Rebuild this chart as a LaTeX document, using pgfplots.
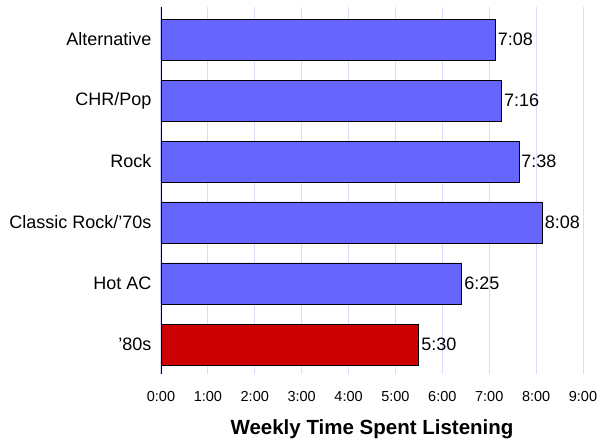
\documentclass[border=0pt]{standalone}
\usepackage{fontspec}
\setmainfont{Liberation Sans}
\usepackage{pgfplots}
\usepackage{pgfplotstable}
\pgfplotsset{compat=1.18}
\definecolor{barblue}{RGB}{102,102,255}
\definecolor{barred}{RGB}{204,0,0}
\definecolor{gridc}{RGB}{218,218,255}
\pgfplotstableread{
y x label
5 7.1333 7:08
4 7.2667 7:16
3 7.6333 7:38
2 8.1333 8:08
1 6.4167 6:25
}\bluedata
\pgfplotstableread{
y x label
0 5.5 5:30
}\reddata
\begin{document}
\begin{tikzpicture}
\path[use as bounding box] (-161pt,-65pt) rectangle (441pt,374pt);
\begin{axis}[
  at={(0pt,0pt)}, anchor=south west,
  scale only axis, width=422pt, height=367pt,
  xmin=0, xmax=9, ymin=-0.484, ymax=5.533,
  xtick={0,...,9},
  xticklabels={0:00,1:00,2:00,3:00,4:00,5:00,6:00,7:00,8:00,9:00},
  ytick={0,...,5},
  yticklabels={'80s,Hot AC,Classic Rock/'70s,Rock,CHR/Pop,Alternative},
  xmajorgrids, major grid style={gridc, line width=1pt},
  axis x line*=bottom, axis y line*=left,
  x axis line style={draw=none},
  y axis line style={black, line width=0.8pt},
  major tick length=0pt,
  xticklabel style={font=\fontsize{14.5}{16}\selectfont, yshift=-14pt},
  yticklabel style={font=\fontsize{18}{20}\selectfont, xshift=-6pt},
  xlabel={\textbf{Weekly Time Spent Listening}},
  xlabel style={font=\fontsize{20.5}{22}\selectfont, yshift=-11pt},
  xbar, bar width=0.672, bar shift=0pt,
  nodes near coords, point meta=explicit symbolic,
  nodes near coords style={font=\fontsize{18}{20}\selectfont, inner sep=2pt, black, anchor=west},
]
\addplot[draw=black, fill=barblue, line width=0.8pt] table[x=x, y=y, meta=label] {\bluedata};
\addplot[draw=black, fill=barred, line width=0.8pt] table[x=x, y=y, meta=label] {\reddata};
\end{axis}
\end{tikzpicture}
\end{document}
